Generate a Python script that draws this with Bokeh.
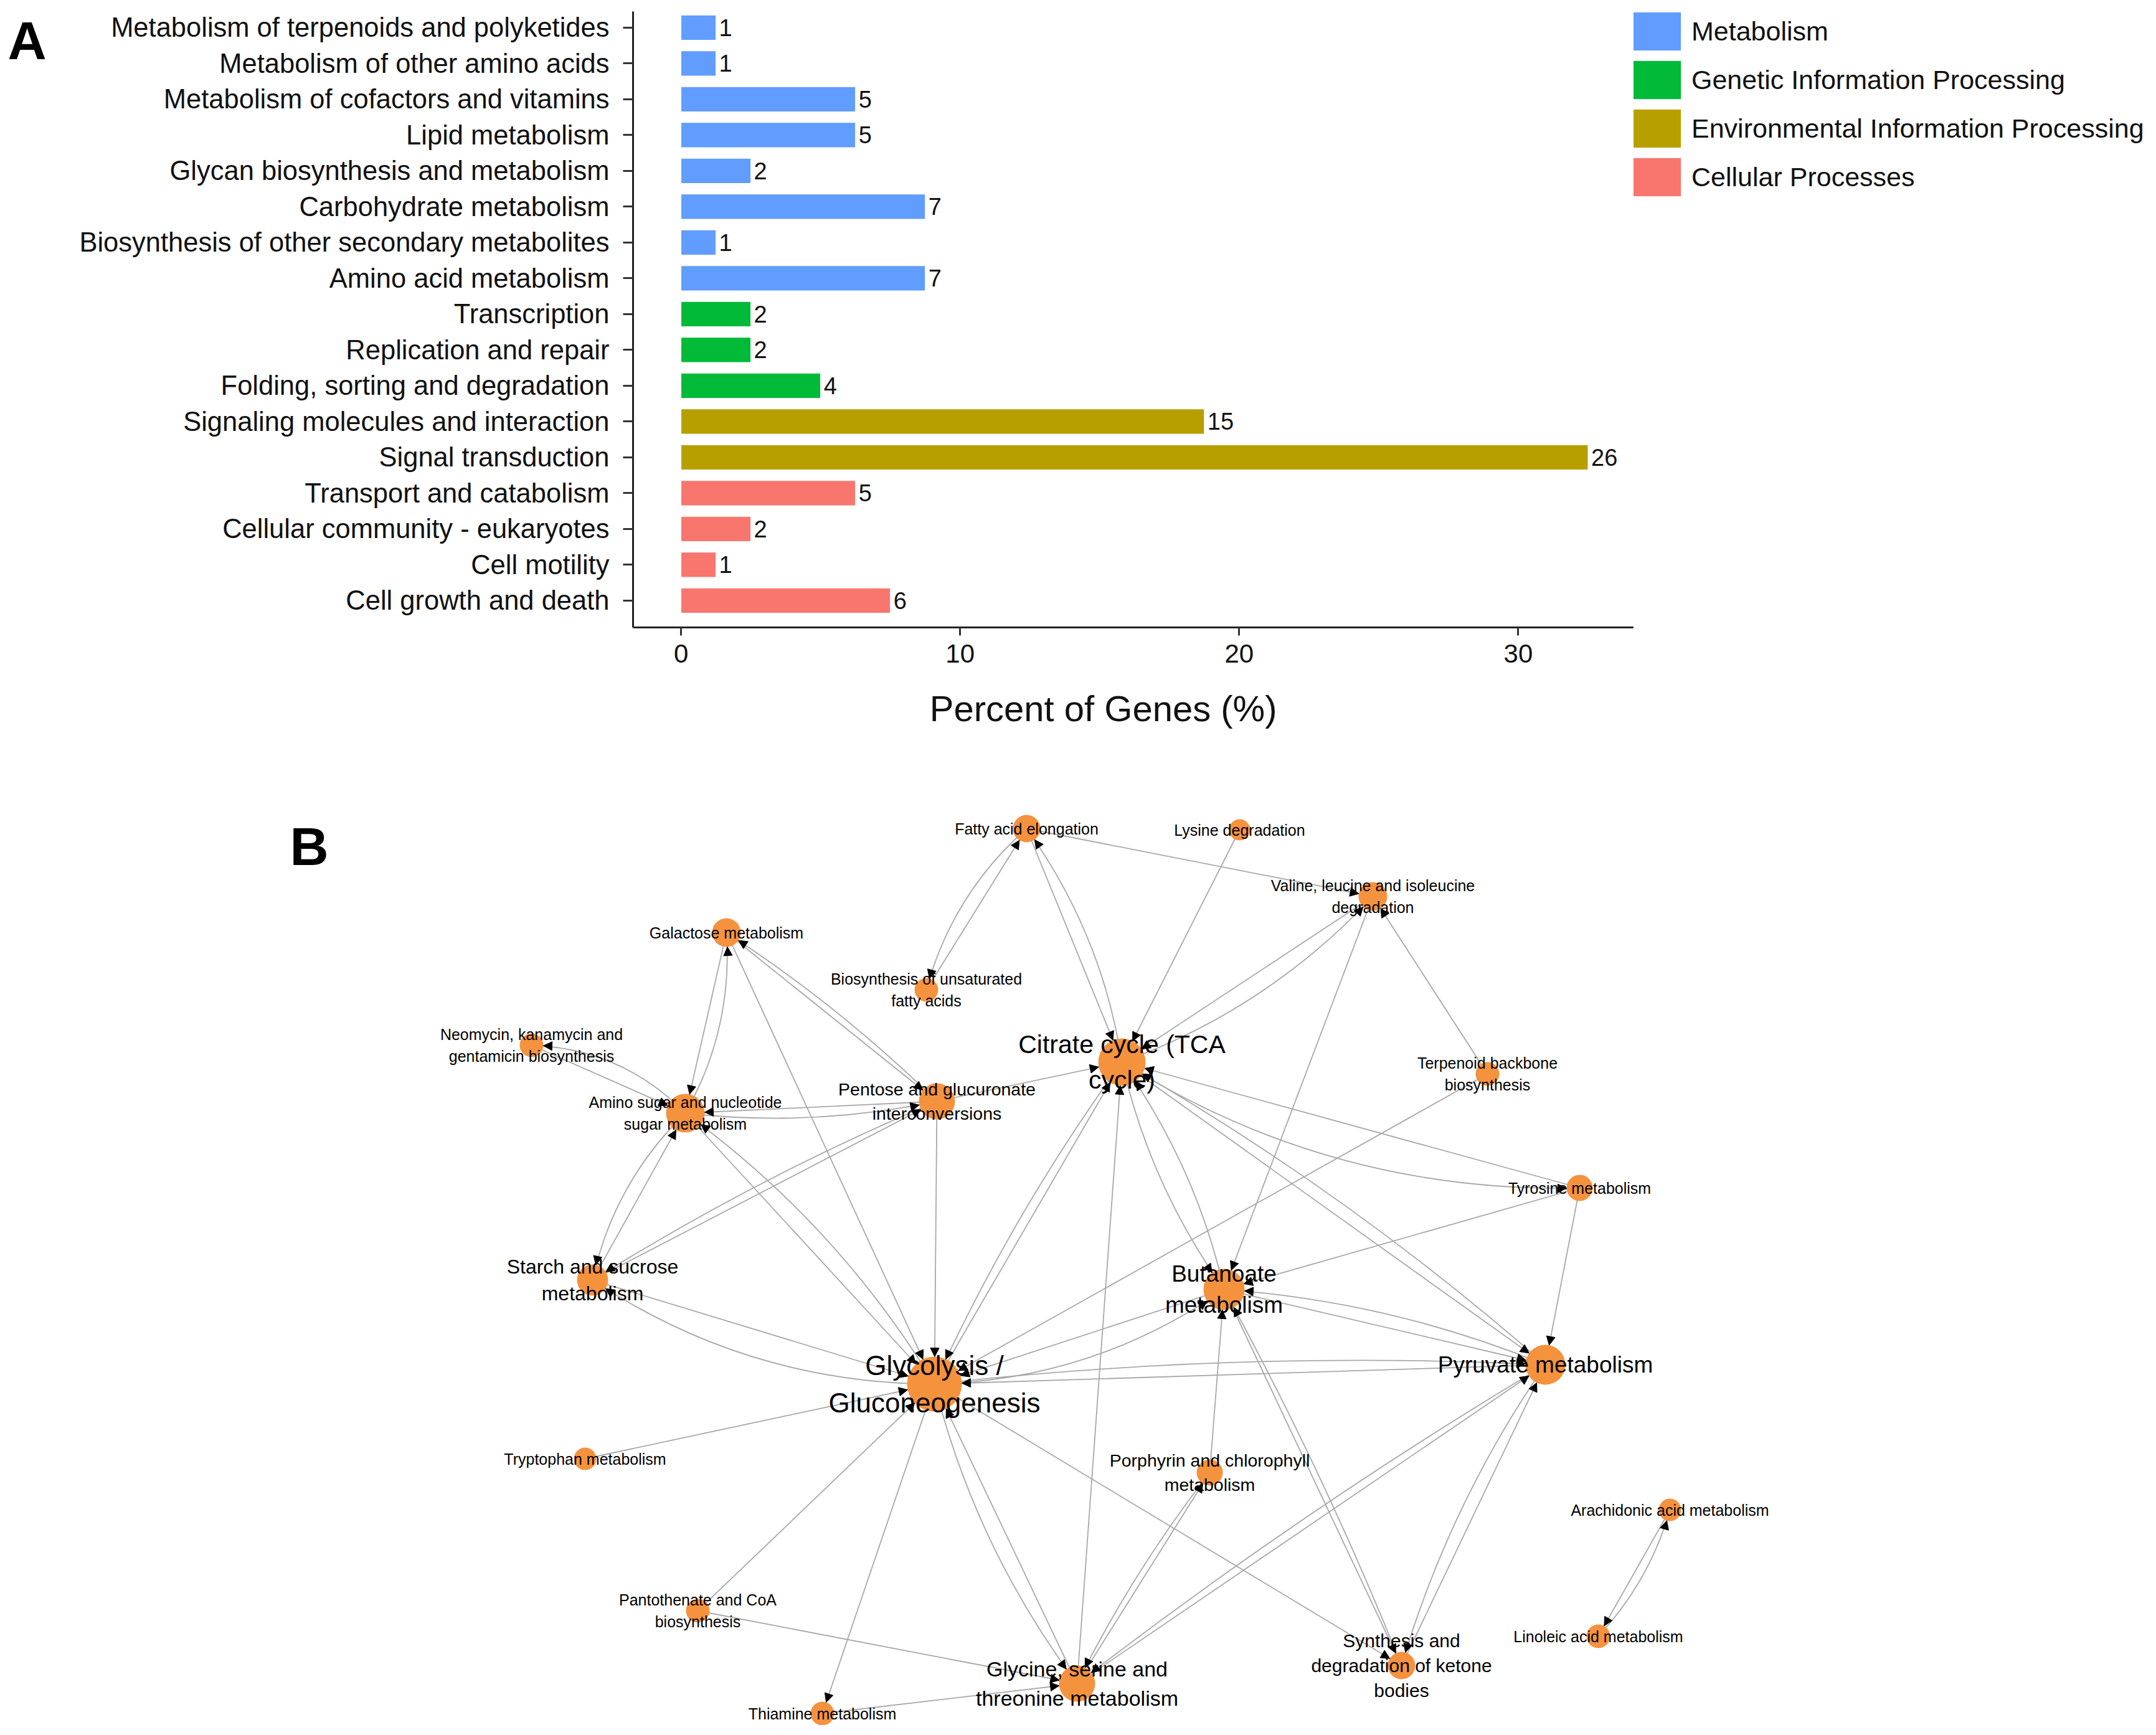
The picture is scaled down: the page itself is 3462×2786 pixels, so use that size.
import math
from bokeh.plotting import figure
from bokeh.models import (Range1d, FixedTicker, Legend, LegendItem,
                          ColumnDataSource, Arrow, NormalHead)
from bokeh.layouts import column, row
from bokeh.embed import file_html
from bokeh.resources import INLINE
from bokeh.core.properties import value

FONT = "Liberation Sans"

# ---------------- Panel A data ----------------
categories = [
    "Metabolism of terpenoids and polyketides",
    "Metabolism of other amino acids",
    "Metabolism of cofactors and vitamins",
    "Lipid metabolism",
    "Glycan biosynthesis and metabolism",
    "Carbohydrate metabolism",
    "Biosynthesis of other secondary metabolites",
    "Amino acid metabolism",
    "Transcription",
    "Replication and repair",
    "Folding, sorting and degradation",
    "Signaling molecules and interaction",
    "Signal transduction",
    "Transport and catabolism",
    "Cellular community - eukaryotes",
    "Cell motility",
    "Cell growth and death",
]
groups = ["Metabolism"] * 8 + ["Genetic Information Processing"] * 3 + \
         ["Environmental Information Processing"] * 2 + ["Cellular Processes"] * 4
percent = [1.25, 1.25, 6.25, 6.25, 2.5, 8.75, 1.25, 8.75,
           2.5, 2.5, 5.0, 18.75, 32.5, 6.25, 2.5, 1.25, 7.5]
counts = [1, 1, 5, 5, 2, 7, 1, 7, 2, 2, 4, 15, 26, 5, 2, 1, 6]
group_names = ["Metabolism", "Genetic Information Processing",
               "Environmental Information Processing", "Cellular Processes"]
group_colors = ["#619CFF", "#00BA38", "#B79F00", "#F8766D"]
x_ticks = [0, 10, 20, 30]
x_title = "Percent of Genes (%)"

# ---------------- Panel B data ----------------
node_ids = ["FAE", "LYS", "VAL", "GAL", "BUF", "NEO", "TCA", "TER", "AMS", "PEN",
            "TYR", "STA", "BUT", "GLY", "PYR", "TRP", "POR", "ARA", "PAN", "LIN",
            "SYN", "GST", "THI"]
node_labels = [
    "Fatty acid elongation",
    "Lysine degradation",
    "Valine, leucine and isoleucine\ndegradation",
    "Galactose metabolism",
    "Biosynthesis of unsaturated\nfatty acids",
    "Neomycin, kanamycin and\ngentamicin biosynthesis",
    "Citrate cycle (TCA\ncycle)",
    "Terpenoid backbone\nbiosynthesis",
    "Amino sugar and nucleotide\nsugar metabolism",
    "Pentose and glucuronate\ninterconversions",
    "Tyrosine metabolism",
    "Starch and sucrose\nmetabolism",
    "Butanoate\nmetabolism",
    "Glycolysis /\nGluconeogenesis",
    "Pyruvate metabolism",
    "Tryptophan metabolism",
    "Porphyrin and chlorophyll\nmetabolism",
    "Arachidonic acid metabolism",
    "Pantothenate and CoA\nbiosynthesis",
    "Linoleic acid metabolism",
    "Synthesis and\ndegradation of ketone\nbodies",
    "Glycine, serine and\nthreonine metabolism",
    "Thiamine metabolism",
]
node_x = [1648, 1990, 2204, 1166, 1487, 853, 1801, 2388, 1100, 1504,
          2536, 951, 1965, 1500, 2481, 939, 1942, 2681, 1120, 2566,
          2250, 1729, 1320]
node_y = [1330, 1332, 1439, 1497, 1589, 1678, 1705, 1724, 1787, 1768,
          1907, 2055, 2070, 2222, 2191, 2342, 2364, 2424, 2586, 2627,
          2674, 2703, 2751]
node_r = [22, 17, 23, 23, 19, 19, 38, 19, 31, 29,
          21, 25, 33, 44, 32, 18, 21, 18, 19, 19,
          22, 29, 19]
label_px = [25, 25, 25, 25, 25, 25, 41, 25, 25, 28.5,
            25, 32, 37, 44, 37, 25, 28.5, 25, 25, 25,
            30, 34, 25]

# edges: source, target, curvature
edges = [
    ("BUF", "FAE", 0), ("FAE", "BUF", 0.15),
    ("TCA", "FAE", 0.12), ("FAE", "TCA", 0),
    ("FAE", "VAL", 0),
    ("LYS", "TCA", 0),
    ("TCA", "VAL", 0.12), ("VAL", "TCA", 0),
    ("VAL", "BUT", 0),
    ("TER", "VAL", 0),
    ("TER", "GLY", 0),
    ("PEN", "TCA", 0),
    ("GAL", "AMS", 0), ("AMS", "GAL", 0.15),
    ("GAL", "PEN", 0), ("PEN", "GAL", 0.05),
    ("GAL", "GLY", 0),
    ("AMS", "NEO", 0.2), ("NEO", "AMS", 0),
    ("PEN", "AMS", 0), ("AMS", "PEN", 0.08),
    ("STA", "AMS", 0), ("AMS", "STA", 0.15),
    ("STA", "PEN", 0), ("PEN", "STA", 0.04),
    ("AMS", "GLY", 0), ("GLY", "AMS", 0.1),
    ("PEN", "GLY", 0),
    ("STA", "GLY", 0), ("GLY", "STA", -0.15),
    ("TRP", "GLY", 0),
    ("PAN", "GLY", 0),
    ("GLY", "THI", 0),
    ("PAN", "GST", 0),
    ("THI", "GST", 0),
    ("GLY", "GST", 0.1), ("GST", "GLY", 0),
    ("GLY", "SYN", 0),
    ("GLY", "BUT", 0.15), ("BUT", "GLY", 0),
    ("GLY", "PYR", -0.04), ("PYR", "GLY", 0),
    ("GLY", "TCA", 0), ("TCA", "GLY", 0.05),
    ("GST", "TCA", 0),
    ("TCA", "BUT", 0.1), ("BUT", "TCA", 0.1),
    ("TCA", "TYR", 0.15), ("TYR", "TCA", 0),
    ("TCA", "PYR", 0), ("PYR", "TCA", 0.05),
    ("TYR", "PYR", 0),
    ("TYR", "BUT", 0),
    ("BUT", "PYR", 0), ("PYR", "BUT", 0.08),
    ("POR", "BUT", 0),
    ("BUT", "SYN", 0), ("SYN", "BUT", 0.03),
    ("SYN", "PYR", 0), ("PYR", "SYN", 0.08),
    ("GST", "PYR", 0), ("PYR", "GST", 0.03),
    ("GST", "POR", 0), ("POR", "GST", 0.05),
    ("ARA", "LIN", 0), ("LIN", "ARA", 0.12),
]

W = 3462
HA = 1240
WLAB = 120
FRAME_L, FRAME_R = 1016, 2623
WLEG = W - FRAME_R


def no_align(p):
    if "frame_align" in p.properties():
        p.frame_align = False


def bare(p):
    p.outline_line_color = None
    p.xgrid.visible = False
    p.ygrid.visible = False
    no_align(p)


# ================= Panel A label figure =================
pL = figure(width=WLAB, height=HA, output_backend="svg", toolbar_location=None,
            x_range=Range1d(0, WLAB), y_range=Range1d(HA, 0), min_border=0,
            x_axis_location=None, y_axis_location=None)
bare(pL)
pL.text(x=[12], y=[64], text=["A"], text_font=value(FONT), text_font_style="bold",
        text_font_size="86px", text_baseline="alphabetic", text_align="left",
        text_color="black")

# ================= Panel A =================
ypos = [len(categories) - i for i in range(len(categories))]

pA = figure(width=FRAME_R - WLAB, height=HA, output_backend="svg", toolbar_location=None,
            x_range=Range1d(-1.72, 34.14), y_range=Range1d(0.25, 17.45),
            min_border_left=FRAME_L - WLAB, min_border_right=0,
            min_border_top=18, min_border_bottom=HA - 1007)
bare(pA)

for g, col in zip(group_names, group_colors):
    idx = [i for i, gg in enumerate(groups) if gg == g]
    src = ColumnDataSource(dict(y=[ypos[i] for i in idx],
                                right=[percent[i] for i in idx]))
    pA.hbar(y="y", left=0, right="right", height=0.7, source=src,
            fill_color=col, line_color="white", line_width=1)

pA.text(x=percent, y=ypos, text=[str(c) for c in counts], x_offset=5,
        text_align="left", text_baseline="middle", text_font_size="38px",
        text_font=value(FONT), text_color="#111111")

for ax in (pA.xaxis[0], pA.yaxis[0]):
    ax.axis_line_width = 3
    ax.axis_line_color = "#222222"
    ax.major_tick_line_width = 3
    ax.major_tick_line_color = "#333333"
    ax.minor_tick_line_color = None
    ax.major_tick_in = 0
    ax.major_label_text_font = FONT
    ax.major_label_text_color = "#111111"

pA.xaxis.ticker = FixedTicker(ticks=x_ticks)
pA.xaxis.major_tick_out = 13
pA.xaxis.major_label_standoff = 14
pA.xaxis.major_label_text_font_size = "42px"
# trailing no-break spaces nudge the centred title slightly left, as in the original
pA.xaxis.axis_label = x_title + "\u00a0" * 6
pA.xaxis.axis_label_text_font = FONT
pA.xaxis.axis_label_text_font_size = "58px"
pA.xaxis.axis_label_text_font_style = "normal"
pA.xaxis.axis_label_text_color = "#111111"
pA.xaxis.axis_label_standoff = 38

pA.yaxis.ticker = FixedTicker(ticks=ypos)
pA.yaxis.major_label_overrides = {y: c for y, c in zip(ypos, categories)}
pA.yaxis.major_tick_out = 16
pA.yaxis.major_label_standoff = 22
pA.yaxis.major_label_text_font_size = "43.5px"

# ================= Legend figure =================
pG = figure(width=WLEG, height=HA, output_backend="svg", toolbar_location=None,
            x_range=Range1d(0, 1), y_range=Range1d(0, 1), min_border=0,
            x_axis_location=None, y_axis_location=None)
bare(pG)
leg_items = []
for g, col in zip(group_names, group_colors):
    # key swatch renderer, kept outside the visible range; only its legend key shows
    r = pG.hbar(y=[-5], left=[0], right=[1], height=0.7,
                fill_color=col, line_color="white", line_width=1)
    leg_items.append(LegendItem(label=g, renderers=[r]))
n_items = len(group_names)
gw, gh = 108, 78
leg_h = n_items * gh
legend = Legend(items=leg_items, location=(-21, HA - 11 - leg_h),
                glyph_width=gw, glyph_height=gh, spacing=0,
                padding=0, margin=0, label_standoff=6, label_text_font=FONT,
                label_text_font_size="43px", label_text_color="#111111",
                border_line_color=None, background_fill_alpha=0)
pG.add_layout(legend)

# ================= Panel B =================
HB = 1530
pB = figure(width=W, height=HB, output_backend="svg", toolbar_location=None,
            x_range=Range1d(0, W), y_range=Range1d(HA + HB, HA),
            min_border=0, x_axis_location=None, y_axis_location=None)
bare(pB)

pos = {n: (x, y) for n, x, y in zip(node_ids, node_x, node_y)}
rad = {n: r for n, r in zip(node_ids, node_r)}

ex0, ey0, ex1, ey1, ecx, ecy = [], [], [], [], [], []
ax0, ay0, ax1, ay1 = [], [], [], []
for s, t, c in edges:
    x0, y0 = pos[s]
    x1, y1 = pos[t]
    dx, dy = x1 - x0, y1 - y0
    L = math.hypot(dx, dy)
    px, py = -dy / L, dx / L
    cx = (x0 + x1) / 2 + c * L * px
    cy = (y0 + y1) / 2 + c * L * py
    ex0.append(x0); ey0.append(y0); ex1.append(x1); ey1.append(y1)
    ecx.append(cx); ecy.append(cy)
    ux, uy = x1 - cx, y1 - cy
    ul = math.hypot(ux, uy)
    ux, uy = ux / ul, uy / ul
    tipx, tipy = x1 - ux * rad[t], y1 - uy * rad[t]
    ax1.append(tipx); ay1.append(tipy)
    ax0.append(tipx - ux * 10); ay0.append(tipy - uy * 10)

pB.quadratic(x0=ex0, y0=ey0, x1=ex1, y1=ey1, cx=ecx, cy=ecy,
             line_color="#a8a8a8", line_width=1.8)

pB.circle(x=node_x, y=node_y, radius=node_r, fill_color="#F5923E", line_color=None)

asrc = ColumnDataSource(dict(x0=ax0, y0=ay0, x1=ax1, y1=ay1))
pB.add_layout(Arrow(x_start="x0", y_start="y0", x_end="x1", y_end="y1", source=asrc,
                    line_alpha=0, line_width=0,
                    end=NormalHead(size=14, fill_color="black", line_color="black", line_width=1)))

pB.text(x=node_x, y=node_y, text=node_labels,
        text_font_size=[f"{s}px" for s in label_px],
        text_align="center", text_baseline="middle", text_line_height=1.22,
        text_font=value(FONT), text_color="black")

pB.text(x=[465], y=[1358], text=["B"], text_font=value(FONT), text_font_style="bold",
        text_font_size="86px", text_baseline="alphabetic", text_align="left",
        text_color="black")

layout = column(row(pL, pA, pG), pB)
open("out.html", "w").write(file_html(layout, INLINE))
